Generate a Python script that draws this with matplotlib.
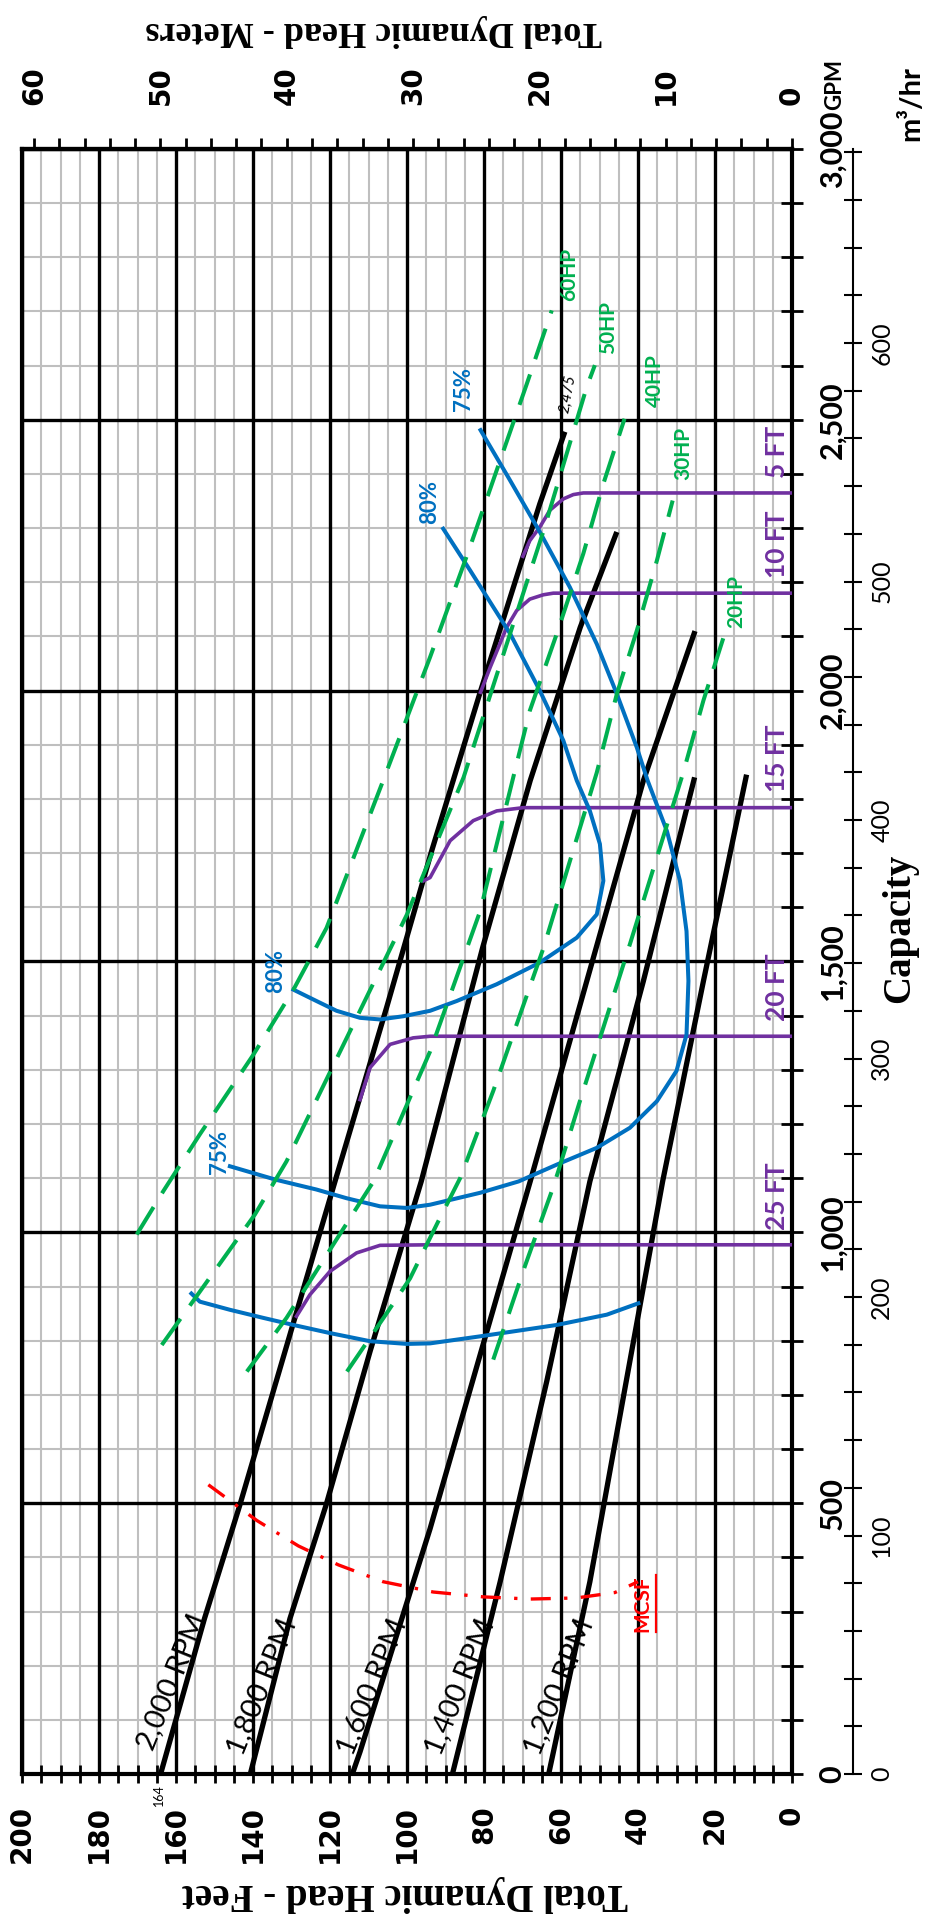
import matplotlib
matplotlib.use("Agg")
import matplotlib.pyplot as plt
from matplotlib.ticker import MultipleLocator, FuncFormatter

# ---- values (capacity in gpm, head in feet) ----
rpm_names = ["2,000 RPM", "1,800 RPM", "1,600 RPM", "1,400 RPM", "1,200 RPM"]
rpm_gpm = [
    [0, 287, 497, 1094, 1415, 1704, 1997, 2345, 2478],
    [0, 287, 497, 780, 1094, 1527, 1834, 2117, 2293],
    [0, 41, 453, 811, 1094, 1464, 1834, 2110],
    [0, 355, 725, 1094, 1464, 1840],
    [0, 355, 786, 1094, 1464, 1845],
]
rpm_head = [
    [164, 152.6, 143.4, 118.7, 105.3, 93.6, 81.0, 65.5, 59.0],
    [140.7, 130.4, 121.0, 109.6, 96.3, 80.3, 68.0, 55.0, 45.5],
    [114.2, 112.2, 94.0, 79.5, 68.0, 53.3, 38.6, 25.2],
    [88.2, 75.8, 63.7, 52.5, 38.6, 25.3],
    [63.2, 52.5, 41.5, 33.6, 23.0, 11.8],
]

eff75_gpm = [2481, 2394, 2293, 2191, 2086, 1994, 1895, 1834, 1741, 1649, 1556, 1464,
             1365, 1298, 1242, 1193, 1156, 1125, 1094, 1073, 1051, 1045, 1048, 1063,
             1079, 1097, 1122]
eff75_head = [80.9, 73.7, 65.5, 57.7, 50.7, 45.5, 40.3, 37.5, 32.5, 29.1, 27.4, 26.9,
              27.4, 30.0, 35.1, 42.1, 50.7, 61.1, 71.0, 81.0, 94.0, 100.0, 107.0, 115.7,
              123.5, 134.0, 146.0]
eff80_gpm = [2299, 2222, 2105, 2000, 1908, 1834, 1778, 1717, 1649, 1587, 1544, 1498,
             1458, 1427, 1409, 1399, 1393, 1396, 1409, 1427, 1448]
eff80_head = [90.6, 83.6, 73.2, 65.5, 59.4, 55.9, 52.5, 49.9, 49.0, 50.7, 55.9, 65.5,
              76.7, 87.1, 94.0, 100.9, 107.0, 112.2, 118.3, 123.5, 129.5]
eff75_low_gpm = [887, 872, 857, 842, 829, 814, 799, 794, 795, 808, 829, 848, 869]
eff75_low_head = [156.0, 153.8, 146.0, 137.3, 129.5, 120.0, 109.6, 100.0, 94.0, 81.0,
                  61.1, 48.1, 39.9]

lift_names = ["5 FT", "10 FT", "15 FT", "20 FT", "25 FT"]
lift_gpm = [
    [2248, 2277, 2302, 2333, 2354, 2362, 2365, 2365],
    [1997, 2043, 2117, 2148, 2169, 2177, 2180, 2180],
    [1649, 1655, 1723, 1760, 1778, 1784, 1784],
    [1245, 1304, 1347, 1359, 1362, 1362],
    [845, 885, 928, 962, 976, 977, 977],
]
lift_head = [
    [69.9, 68.1, 65.5, 62.9, 59.4, 56.8, 54.2, 0],
    [80.9, 78.4, 74.1, 71.5, 68.1, 64.6, 62.0, 0],
    [95.7, 94.0, 88.8, 82.8, 76.7, 69.8, 0],
    [112.2, 109.6, 104.4, 98.4, 94.0, 0],
    [128.7, 125.2, 120.0, 113.1, 107.0, 94.0, 0],
]

hp_names = ["60HP", "50HP", "40HP", "30HP", "20HP"]
hp_gpm = [
    [996, 1076, 1181, 1328, 1448, 1562, 1834, 2062, 2256, 2566, 2702],
    [792, 1033, 1131, 1587, 1840, 2086, 2296, 2561, 2601],
    [743, 842, 1094, 1334, 1593, 1840, 1963, 2105, 2253, 2382, 2502],
    [743, 842, 915, 977, 1020, 1100, 1261, 1526, 1849, 1994, 2111, 2240, 2351],
    [765, 937, 1076, 1113, 1242, 1532, 1850, 1982, 2098],
]
hp_head = [
    [170.2, 163.3, 153.8, 139.9, 129.5, 120.9, 106.2, 94.0, 84.1, 68.9, 62.4],
    [163.7, 139.5, 131.3, 100.0, 85.3, 74.1, 64.5, 53.3, 51.2],
    [141.6, 131.3, 108.7, 94.0, 81.0, 72.4, 68.1, 61.1, 54.2, 49.0, 43.5],
    [115.6, 106.1, 99.2, 94.9, 91.9, 86.2, 77.6, 64.5, 50.7, 45.5, 40.3, 35.1, 31.0],
    [77.6, 69.4, 62.4, 60.7, 55.1, 42.1, 28.2, 23.0, 17.8],
]

mcsf_gpm = [534, 500, 468, 421, 386, 355, 336, 327, 323, 325, 335, 355]
mcsf_head = [151.6, 145.1, 139.0, 128.2, 117.8, 106.2, 93.2, 80.2, 68.0, 56.0, 46.0, 40.0]

FT_PER_M = 3.2808
GPM_PER_M3H = 4.4029

BLUE = "#0070C0"
GREEN = "#00B050"
PURPLE = "#7030A0"
LATO = ["Lato", "DejaVu Sans"]
SERIF = ["Liberation Serif", "DejaVu Serif"]

W, H = 952, 1917
fig = plt.figure(figsize=(W / 100, H / 100), dpi=100)
fig.patch.set_facecolor("white")


def fx(px):
    return px / W


def fy(py):
    return 1 - py / H


L, R, T, B = 22, 792, 149, 1774
ax = fig.add_axes([fx(L), fy(B), (R - L) / W, (B - T) / H])
ax3 = ax.twinx()  # m3/hr scale, set up below

ax.set_xlim(200, 0)
ax.set_ylim(0, 3000)

# grid: gray every 5 ft / 100 gpm, black every 20 ft / 500 gpm
ax.xaxis.set_major_locator(MultipleLocator(20))
ax.xaxis.set_minor_locator(MultipleLocator(5))
ax.yaxis.set_major_locator(MultipleLocator(500))
ax.yaxis.set_minor_locator(MultipleLocator(100))
ax.set_axisbelow(True)
ax.grid(which="minor", color="#bfbfbf", lw=1.5)
for v in ax.get_xticks():
    ax.axvline(v, color="black", lw=2.4, zorder=1)
for v in ax.get_yticks():
    ax.axhline(v, color="black", lw=2.4, zorder=1)

for s in ax.spines.values():
    s.set_linewidth(3)

# bottom: feet
ax.tick_params(axis="x", which="both", bottom=True, top=False, direction="inout",
               length=13, width=2)
ax.tick_params(axis="x", which="major", labelsize=20, pad=16, labelrotation=90)
ax.xaxis.set_major_formatter(FuncFormatter(lambda v, p: f"{v:.0f}"))
for t in ax.get_xticklabels():
    t.set_fontweight("bold")
    t.set_fontfamily("DejaVu Sans")

# right: gpm
ax.yaxis.tick_right()
ax.tick_params(axis="y", which="both", left=False, right=True, labelleft=False,
               labelright=True, direction="inout", length=16, width=2)
ax.tick_params(axis="y", which="major", labelsize=22, pad=11, labelrotation=90)
ax.yaxis.set_major_formatter(FuncFormatter(lambda v, p: f"{v:,.0f}"))
for t in ax.get_yticklabels():
    t.set_fontweight("bold")
    t.set_fontfamily(LATO)
    t.set_verticalalignment("center")

# top: meters
sec = ax.secondary_xaxis("top", functions=(lambda f: f / FT_PER_M, lambda m: m * FT_PER_M))
sec.xaxis.set_major_locator(MultipleLocator(10))
sec.xaxis.set_minor_locator(MultipleLocator(2))
sec.tick_params(which="both", direction="out", length=8, width=2)
sec.tick_params(which="major", labelsize=20, pad=24, labelrotation=90)
sec.spines["top"].set_linewidth(3)
sec.xaxis.set_major_formatter(FuncFormatter(lambda v, p: f"{v:.0f}"))
for t in sec.get_xticklabels():
    t.set_fontweight("bold")
    t.set_fontfamily("DejaVu Sans")

# m3/hr scale on its own spine
ax3.set_ylim(0, 3000 / GPM_PER_M3H)
for k in ["left", "top", "bottom"]:
    ax3.spines[k].set_visible(False)
ax3.spines["right"].set_position(("axes", (853 - L) / (R - L)))
ax3.spines["right"].set_linewidth(1.5)
ax3.yaxis.set_major_locator(MultipleLocator(100))
ax3.yaxis.set_minor_locator(MultipleLocator(20))
ax3.tick_params(which="both", direction="inout", length=13, width=1.5)
ax3.tick_params(which="major", labelsize=18, pad=6, labelrotation=90)
for t in ax3.get_yticklabels():
    t.set_fontfamily(LATO)
    t.set_verticalalignment("center")

# pump speed curves
for q, h in zip(rpm_gpm, rpm_head):
    ax.plot(h, q, color="black", lw=3.8, solid_capstyle="butt", zorder=3)

rpm_label_at = [(161.1, 170), (137.7, 161), (109.2, 161), (86.2, 161), (60.5, 161)]
for name, (lh, lq) in zip(rpm_names, rpm_label_at):
    ax.text(lh, lq, name, rotation=68, rotation_mode="anchor", ha="center",
            va="center", fontsize=21, family=LATO, zorder=8)

# suction lift curves
for q, h in zip(lift_gpm, lift_head):
    ax.plot(h, q, color=PURPLE, lw=2.6, zorder=4)
for name, q in zip(lift_names, lift_gpm):
    ax.text(4, q[-1] + 28, name, rotation=90, rotation_mode="anchor", ha="left",
            va="center", fontsize=19, fontweight="bold", color=PURPLE, family=LATO,
            zorder=8)

# efficiency curves
for q, h in [(eff75_gpm, eff75_head), (eff80_gpm, eff80_head),
             (eff75_low_gpm, eff75_low_head)]:
    ax.plot(h, q, color=BLUE, lw=2.9, zorder=5)
for txt, lh, lq in [("75%", 85.3, 2517), ("80%", 94.0, 2308),
                    ("80%", 134.0, 1442), ("75%", 148.7, 1107)]:
    ax.text(lh, lq, txt, rotation=90, rotation_mode="anchor", ha="left",
            va="center", fontsize=16, fontweight="bold", color=BLUE, family=LATO,
            zorder=8)

# horsepower curves
for q, h in zip(hp_gpm, hp_head):
    ax.plot(h, q, color=GREEN, lw=2.9, dashes=(8, 4), zorder=6)
for name, lh, lq in zip(hp_names, [57.8, 47.7, 35.6, 28.2, 14.4],
                        [2720, 2622, 2523, 2388, 2116]):
    ax.text(lh, lq, name, rotation=90, rotation_mode="anchor", ha="left",
            va="center", fontsize=15, fontweight="bold", color=GREEN, family=LATO,
            zorder=8)

# MCSF
ax.plot(mcsf_head, mcsf_gpm, color="red", lw=2.4, dashes=(6, 4, 1, 4), zorder=7)
mcsf_txt = ax.text(38.8, 262, "MCSF", rotation=90, rotation_mode="anchor", ha="left",
                   va="center", fontsize=15, fontweight="bold", color="red",
                   family=LATO, zorder=8)

ax.text(59, 2512, "2,475", rotation=80, rotation_mode="anchor", ha="left",
        va="center", fontsize=11, style="italic", family=LATO, zorder=8)
ax.text(164.5, -38, "164", rotation=90, ha="center", va="center", fontsize=9,
        family=LATO, clip_on=False, zorder=8)

# axis titles
fig.text(fx(405), fy(1893), "Total Dynamic Head - Feet", rotation=180, ha="center",
         va="center", fontsize=28, fontweight="bold", family=SERIF)
fig.text(fx(374), fy(31), "Total Dynamic Head - Meters", rotation=180, ha="center",
         va="center", fontsize=26, fontweight="bold", family=SERIF)
fig.text(fx(900), fy(928), "Capacity", rotation=90, ha="center", va="center",
         fontsize=28, fontweight="bold", family=SERIF)
fig.text(fx(835), fy(110), "GPM", rotation=90, ha="center", va="bottom",
         fontsize=16, fontweight="bold", family=LATO)
fig.text(fx(911), fy(104), "m³/hr", rotation=90, ha="center", va="center",
         fontsize=21, fontweight="bold", family=LATO)

# underline the MCSF label (baseline is on the right side of the rotated text)
fig.canvas.draw()
bb = mcsf_txt.get_window_extent().transformed(ax.transData.inverted())
ax.plot([min(bb.x0, bb.x1) - 0.8] * 2, [bb.y0, bb.y1], color="red", lw=1.6, zorder=8)

fig.savefig("out.png", dpi=100, facecolor="white")
